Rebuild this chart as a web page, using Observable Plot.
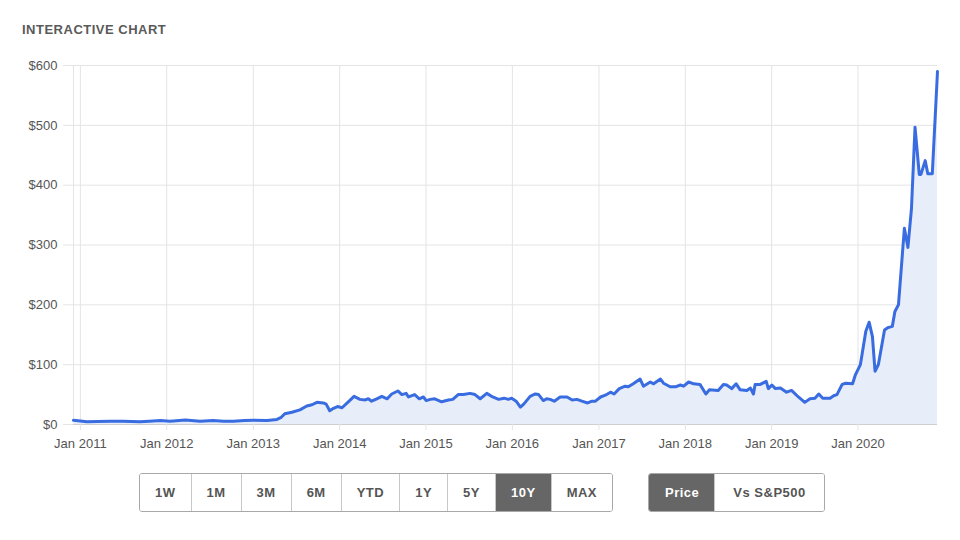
<!DOCTYPE html>
<html>
<head>
<meta charset="utf-8">
<script src="https://cdn.jsdelivr.net/npm/d3@7"></script>
<script src="https://cdn.jsdelivr.net/npm/@observablehq/plot@0.6"></script>
<style>
  body { margin: 0; background: #fff; }
  #wrap { position: relative; width: 960px; height: 540px; background: #fff; font-family: "Liberation Sans", Arial, sans-serif; }
  #title { position: absolute; left: 22px; top: 23px; font-size: 13px; line-height: 13px; font-weight: bold; color: #5a5a5a; letter-spacing: 0.5px; }
  #chart { position: absolute; left: 0; top: 0; }
  #buttons { position: absolute; left: 139px; top: 473px; display: flex; gap: 35px; }
  .group { display: flex; border: 1px solid #a8a8a8; border-radius: 3px; overflow: hidden; height: 37px; }
  .btn { padding: 0 15px; font-size: 13px; font-weight: bold; letter-spacing: 0.5px; color: #555; display: flex; align-items: center; border-left: 1px solid #c8c8c8; background: #fff; }
  .group.mode .btn { padding: 0 15px 0 16px; }
  .group.mode .btn + .btn { padding: 0 18px 0 18px; }
  .btn:first-child { border-left: none; }
  .btn.on { background: #666; color: #fff; }
</style>
</head>
<body>
<div id="wrap">
  <div id="title">INTERACTIVE CHART</div>
  <div id="chart"></div>
  <div id="buttons"></div>
</div>
<script>
const dates = [
"2010-12-03","2011-01-29","2011-03-13","2011-05-07","2011-07-01","2011-09-09","2011-10-19","2011-12-05",
"2012-01-15","2012-03-20","2012-05-21","2012-07-15","2012-08-29","2012-10-08","2012-11-25",
"2013-01-01","2013-02-28","2013-04-11","2013-04-29","2013-05-14","2013-06-13","2013-07-17","2013-08-15","2013-09-06","2013-09-27","2013-10-24","2013-11-05","2013-11-20","2013-12-06","2013-12-23",
"2014-01-11","2014-02-02","2014-03-03","2014-03-28","2014-04-19","2014-05-02","2014-05-16","2014-06-07","2014-06-28","2014-07-21","2014-08-09","2014-09-04","2014-09-21","2014-10-09","2014-10-19","2014-11-14","2014-12-04","2014-12-21",
"2015-01-02","2015-01-19","2015-02-07","2015-03-08","2015-04-06","2015-04-24","2015-05-17","2015-06-08","2015-07-06","2015-07-27","2015-08-18","2015-09-15","2015-10-10","2015-11-04","2015-11-27","2015-12-15","2015-12-29",
"2016-01-17","2016-02-04","2016-02-18","2016-03-16","2016-04-07","2016-04-21","2016-05-11","2016-05-25","2016-06-09","2016-06-26","2016-07-21","2016-08-19","2016-09-10","2016-09-30","2016-10-21","2016-11-14","2016-12-03","2016-12-17",
"2017-01-08","2017-01-28","2017-02-19","2017-03-06","2017-03-28","2017-04-22","2017-05-05","2017-05-26","2017-06-24","2017-07-08","2017-08-06","2017-08-20","2017-09-18","2017-10-01","2017-10-29","2017-11-20","2017-12-11","2017-12-25",
"2018-01-15","2018-02-06","2018-03-04","2018-03-29","2018-04-13","2018-05-20","2018-06-11","2018-06-25","2018-07-16","2018-08-04","2018-08-21","2018-09-18","2018-10-03","2018-10-16","2018-10-23","2018-11-14","2018-12-09","2018-12-18",
"2019-01-02","2019-01-17","2019-02-07","2019-03-05","2019-03-26","2019-04-24","2019-05-21","2019-06-12","2019-07-03","2019-07-19","2019-08-05","2019-09-05","2019-09-20","2019-10-04","2019-10-26","2019-11-10","2019-12-09","2019-12-20",
"2020-01-11","2020-02-03","2020-02-17","2020-03-02","2020-03-13","2020-03-27","2020-04-22","2020-05-07","2020-05-25","2020-06-05","2020-06-20","2020-07-15","2020-07-30","2020-08-14","2020-08-29","2020-09-16","2020-09-23","2020-10-11","2020-10-22","2020-11-10","2020-12-02"
];
const prices = [
7, 4.5, 5, 5.5, 5.5, 4.5, 5.5, 6.5,
5.5, 7.5, 5.5, 6.5, 5.5, 5.5, 6.5,
7, 6.8, 8.5, 12, 18, 20.5, 24.5, 31, 33, 37, 36, 34, 23, 27, 30,
28, 36, 47, 42, 41, 43, 39, 43, 47, 43, 51, 56, 50, 52, 46, 50, 43, 46,
40, 42, 43, 38, 41, 42, 50, 50, 52, 50, 43, 52, 46, 42, 44, 42, 44,
39, 29, 34, 47, 51, 50, 40, 43, 42, 39, 46, 46, 41, 42, 39, 36, 39, 39,
46, 49, 54, 51, 60, 64, 63, 68, 76, 64, 71, 68, 76, 69, 63, 63, 66, 64,
71, 68, 67, 51, 58, 57, 67, 66, 60, 68, 58, 57, 61, 51, 67, 67, 72, 60,
66, 60, 61, 54, 57, 46, 37, 43, 44, 51, 44, 44, 48, 50, 67, 69, 68, 82,
100, 156, 171, 147, 89, 100, 158, 162, 164, 189, 200, 328, 296, 361, 497, 418, 418, 441, 419, 419, 590
];
const xTickDates = ["2011-01-01","2012-01-01","2013-01-01","2014-01-01","2015-01-01","2016-01-01","2017-01-01","2018-01-01","2019-01-01","2020-01-01"];
const yTicks = [0, 100, 200, 300, 400, 500, 600];
const rangeButtons = ["1W","1M","3M","6M","YTD","1Y","5Y","10Y","MAX"];
const rangeSelected = "10Y";
const modeButtons = ["Price","Vs S&P500"];
const modeSelected = "Price";

const data = dates.map((d, i) => ({date: new Date(d + "T00:00:00Z"), price: prices[i]}));
const xTicks = xTickDates.map(d => new Date(d + "T00:00:00Z"));
const gridColor = "#e4e4e4";

const chart = Plot.plot({
  width: 960,
  height: 462,
  marginLeft: 73,
  marginRight: 23,
  marginTop: 65,
  marginBottom: 38,
  style: {fontFamily: "'Liberation Sans', Arial, sans-serif", fontSize: "13px", color: "#555", background: "transparent", overflow: "visible"},
  x: {type: "utc", domain: [data[0].date, data[data.length - 1].date]},
  y: {domain: [0, 600]},
  marks: [
    Plot.gridY(yTicks, {stroke: gridColor, strokeOpacity: 1}),
    Plot.gridX(xTicks, {stroke: gridColor, strokeOpacity: 1}),
    Plot.ruleX([data[0].date], {stroke: gridColor}),
    Plot.areaY(data, {x: "date", y: "price", fill: "#e7edf9"}),
    Plot.ruleY([0], {stroke: "#cfcfcf"}),
    Plot.lineY(data, {x: "date", y: "price", stroke: "#386ce0", strokeWidth: 3, strokeLinejoin: "round"}),
    Plot.axisY(yTicks, {tickSize: 10, tickPadding: 6, stroke: gridColor, fill: "#555", tickFormat: d => "$" + d, label: null}),
    Plot.axisX(xTicks, {tickSize: 6, tickPadding: 8, stroke: gridColor, fill: "#555", tickFormat: d3.utcFormat("Jan %Y"), label: null})
  ]
});
document.getElementById("chart").appendChild(chart);

const btns = document.getElementById("buttons");
function group(labels, selected, cls) {
  const g = document.createElement("div");
  g.className = "group " + cls;
  labels.forEach(l => {
    const b = document.createElement("div");
    b.className = "btn" + (l === selected ? " on" : "");
    b.textContent = l;
    g.appendChild(b);
  });
  btns.appendChild(g);
}
group(rangeButtons, rangeSelected, "range");
group(modeButtons, modeSelected, "mode");
</script>
</body>
</html>
